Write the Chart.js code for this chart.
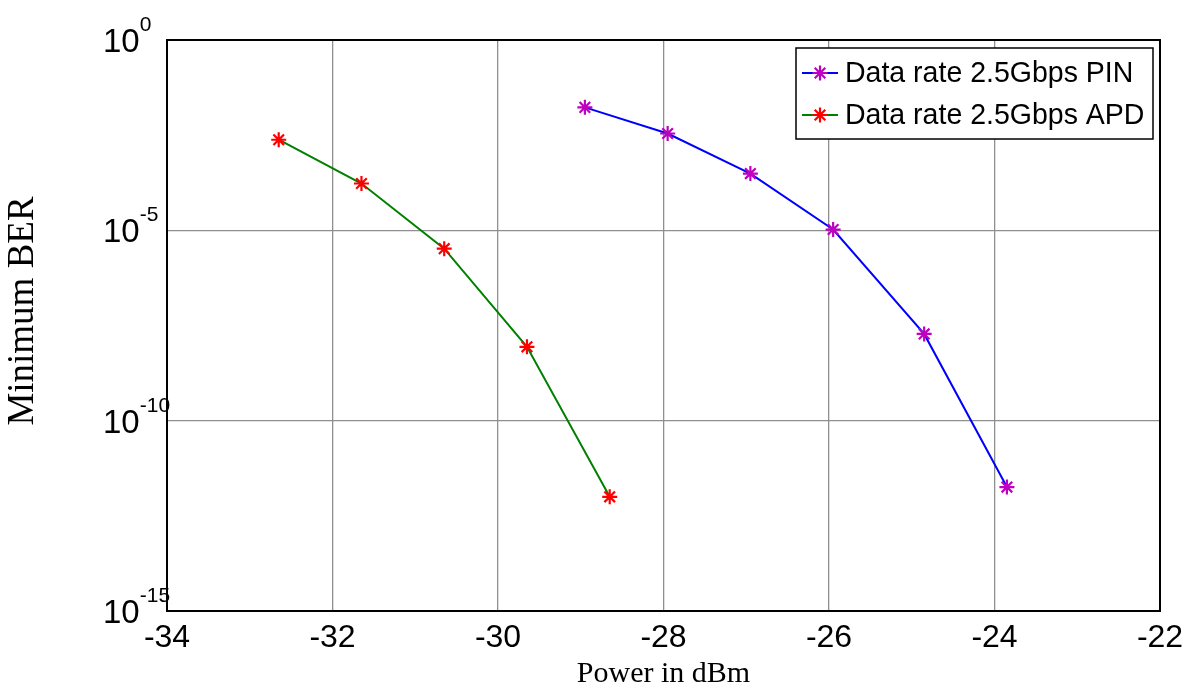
<!DOCTYPE html>
<html lang="en">
<head>
  <meta charset="UTF-8" />
  <title>Minimum BER vs Power</title>
  <script src="https://cdn.jsdelivr.net/npm/chart.js"></script>
  <style>
    body {
      margin: 0;
      padding: 0;
      background: #fff;
    }
    .wrap {
      width: 1182px;
      height: 692px;
    }
  </style>
</head>
<body>
  <div class="wrap">
    <canvas id="berChart" width="1182" height="692"></canvas>
  </div>

  <script>
    // values
    const powerPIN = [-28.95, -27.95, -26.95, -25.95, -24.85, -23.85];
    const berPIN = [1.7e-2, 3.5e-3, 3.1e-4, 1.05e-5, 1.9e-8, 1.8e-12];

    const powerAPD = [-32.65, -31.65, -30.65, -29.65, -28.65];
    const berAPD = [2.4e-3, 1.7e-4, 3.3e-6, 8.7e-9, 1.0e-12];

    const seriesNames = ['Data rate 2.5Gbps PIN', 'Data rate 2.5Gbps APD'];
    const yTickValues = [1, 1e-5, 1e-10, 1e-15];
    const yTickExponents = ['0', '-5', '-10', '-15'];
    const yTitle = 'Minimum BER';

    const sansFont = "'Liberation Sans', Arial, Helvetica, sans-serif";
    const serifFont = "'Liberation Serif', 'Times New Roman', Times, serif";

    function toPoints(xs, ys) {
      return xs.map((x, i) => ({ x: x, y: ys[i] }));
    }

    // box on top/right, y labels as 10^n, y title, legend inside the plot
    const matlabLook = {
      id: 'matlabLook',
      afterDraw(chart) {
        const ctx = chart.ctx;
        const area = chart.chartArea;
        const yScale = chart.scales.y;

        ctx.save();
        ctx.strokeStyle = '#000';
        ctx.lineWidth = 2;
        ctx.strokeRect(area.left, area.top, area.right - area.left, area.bottom - area.top);

        // y tick labels with superscript exponent
        ctx.fillStyle = '#000';
        ctx.textAlign = 'left';
        ctx.textBaseline = 'alphabetic';
        yTickValues.forEach((v, i) => {
          const y = yScale.getPixelForValue(v);
          ctx.font = '33px ' + sansFont;
          ctx.fillText('10', 103, y + 12);
          const w = ctx.measureText('10').width;
          ctx.font = '21px ' + sansFont;
          ctx.fillText(yTickExponents[i], 103 + w, y - 9);
        });

        // y axis title, rotated
        ctx.save();
        ctx.translate(23, 311);
        ctx.rotate(-Math.PI / 2);
        ctx.font = '37px ' + serifFont;
        ctx.textAlign = 'center';
        ctx.textBaseline = 'middle';
        ctx.fillText(yTitle, 0, 0);
        ctx.restore();

        // legend
        const bx = 796, by = 48, bw = 357, bh = 91;
        ctx.fillStyle = '#fff';
        ctx.fillRect(bx, by, bw, bh);
        ctx.strokeStyle = '#000';
        ctx.lineWidth = 1.5;
        ctx.strokeRect(bx, by, bw, bh);

        const rows = [73, 115];
        chart.data.datasets.forEach((ds, i) => {
          const ry = rows[i];
          ctx.strokeStyle = ds.borderColor;
          ctx.lineWidth = 2;
          ctx.beginPath();
          ctx.moveTo(802, ry);
          ctx.lineTo(838, ry);
          ctx.stroke();

          ctx.strokeStyle = ds.pointBorderColor;
          ctx.lineWidth = ds.pointBorderWidth;
          Chart.helpers.drawPoint(ctx, {
            pointStyle: 'star',
            radius: ds.pointRadius,
            borderWidth: ds.pointBorderWidth,
            rotation: 0
          }, 820, ry);

          ctx.fillStyle = '#000';
          ctx.font = '30px ' + sansFont;
          ctx.textAlign = 'left';
          ctx.textBaseline = 'middle';
          ctx.save();
          ctx.translate(845, ry + 1);
          ctx.scale(0.95, 1);
          ctx.fillText(ds.label, 0, 0);
          ctx.restore();
        });
        ctx.restore();
      }
    };

    const ctx = document.getElementById('berChart').getContext('2d');
    new Chart(ctx, {
      type: 'line',
      data: {
        datasets: [
          {
            label: seriesNames[0],
            data: toPoints(powerPIN, berPIN),
            borderColor: '#0000ff',
            borderWidth: 2,
            pointStyle: 'star',
            pointRadius: 7.5,
            pointBorderWidth: 2.2,
            pointBorderColor: '#c000c0',
            pointBackgroundColor: '#c000c0',
            tension: 0
          },
          {
            label: seriesNames[1],
            data: toPoints(powerAPD, berAPD),
            borderColor: '#008000',
            borderWidth: 2,
            pointStyle: 'star',
            pointRadius: 7.5,
            pointBorderWidth: 2.2,
            pointBorderColor: '#ff0000',
            pointBackgroundColor: '#ff0000',
            tension: 0
          }
        ]
      },
      options: {
        responsive: false,
        animation: false,
        layout: {
          padding: { left: 0, top: 40, right: 22, bottom: 0 }
        },
        plugins: {
          legend: { display: false },
          tooltip: { enabled: false }
        },
        scales: {
          x: {
            type: 'linear',
            min: -34,
            max: -22,
            afterFit: (s) => {
              s.height = 81;
              s.paddingLeft = 0;
              s.paddingRight = 0;
            },
            ticks: {
              stepSize: 2,
              color: '#000',
              padding: 8,
              font: { family: sansFont, size: 32 }
            },
            grid: { color: '#8f8f8f', lineWidth: 1.3, drawTicks: false },
            border: { color: '#000', width: 2 },
            title: {
              display: true,
              text: 'Power in dBm',
              color: '#000',
              padding: 0,
              font: { family: serifFont, size: 30 }
            }
          },
          y: {
            type: 'logarithmic',
            min: 1e-15,
            max: 1,
            afterBuildTicks: (s) => { s.ticks = yTickValues.map(v => ({ value: v })); },
            afterFit: (s) => { s.width = 167; },
            ticks: { display: false },
            grid: { color: '#8f8f8f', lineWidth: 1.3, drawTicks: false },
            border: { color: '#000', width: 2 },
            title: { display: false }
          }
        }
      },
      plugins: [matlabLook]
    });
  </script>
</body>
</html>
